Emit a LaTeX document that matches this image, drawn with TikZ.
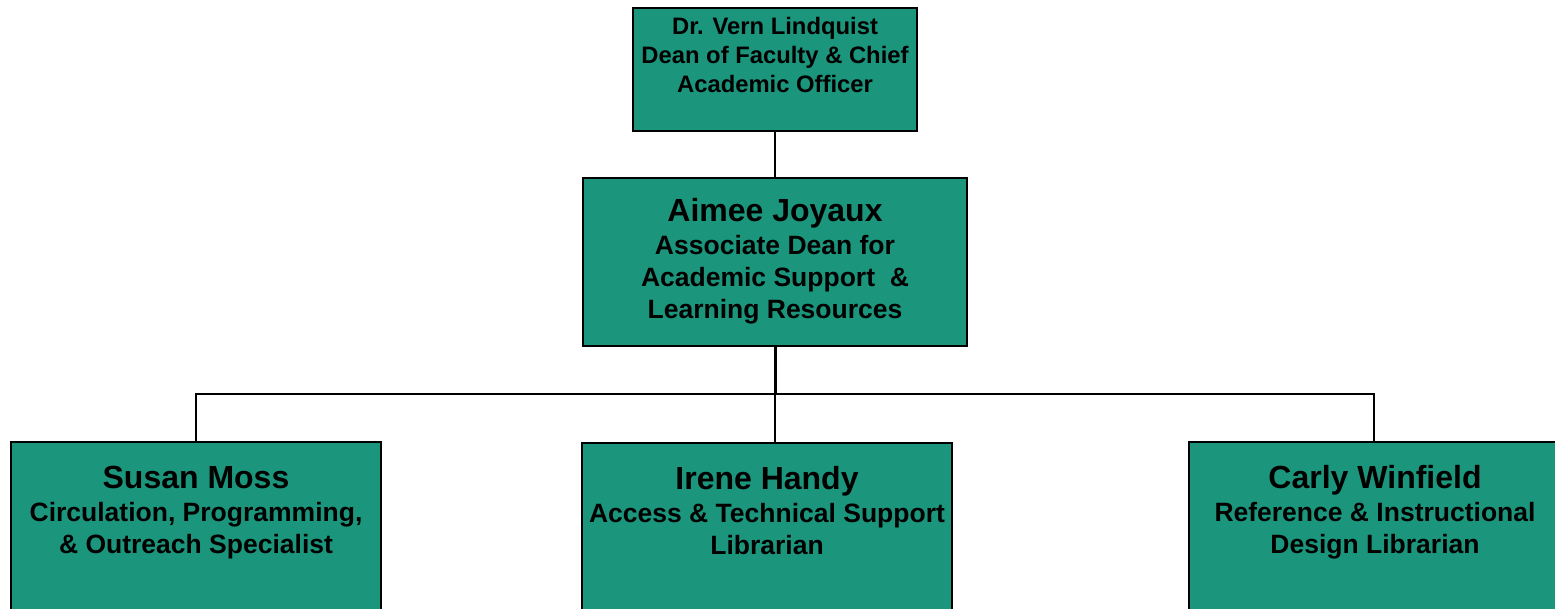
\documentclass[tikz,border=0pt]{standalone}
\usepackage{fontspec}
\setmainfont{Liberation Sans}
\definecolor{boxteal}{HTML}{1B967D}
\begin{document}
\begin{tikzpicture}[x=1pt,y=-1pt,
  orgbox/.style={draw=black,line width=2.2pt,fill=boxteal,rectangle,inner sep=0pt},
  personname/.style={anchor=base,inner sep=0pt,font=\fontsize{32}{38}\selectfont\bfseries},
  roletext/.style={anchor=base,inner sep=0pt,align=center,font=\fontsize{26.5}{32}\selectfont\bfseries},
  toprole/.style={anchor=base,inner sep=0pt,align=center,font=\fontsize{23.8}{29}\selectfont\bfseries},
  link/.style={line width=2pt,draw=black}]
\useasboundingbox (0,0) rectangle (1555,608);
\clip (0,0) rectangle (1555,608);
% boxes
\node[orgbox,minimum width=284pt,minimum height=123pt] (dean) at (775,69.5) {};
\node[orgbox,minimum width=384pt,minimum height=168pt] (assoc) at (775,262) {};
\node[orgbox,minimum width=370pt,minimum height=200pt] (susan) at (196,542) {};
\node[orgbox,minimum width=370pt,minimum height=200pt] (irene) at (767,543) {};
\node[orgbox,minimum width=370pt,minimum height=200pt] (carly) at (1374,542) {};
% texts (multi-line nodes anchored at the baseline of their last line)
\node[toprole] (deant) at (775,92.6) {Dr. Vern Lindquist\\Dean of Faculty \& Chief\\Academic Officer};
\node[personname] (assocn) at (775,221.5) {Aimee Joyaux};
\node[roletext] (assocr) at (775,318.7) {Associate Dean for\\Academic Support\ \ \&\\Learning Resources};
\node[personname] (susann) at (196,488.5) {Susan Moss};
\node[roletext] (susanr) at (196,553.7) {Circulation, Programming,\\\& Outreach Specialist};
\node[personname] (irenen) at (767,489.5) {Irene Handy};
\node[roletext] (irener) at (767,554.7) {Access \& Technical Support\\Librarian};
\node[personname] (carlyn) at (1375,488.5) {Carly Winfield};
\node[roletext] (carlyr) at (1375,553.7) {Reference \& Instructional\\Design Librarian};
% connectors
\coordinate (bus) at (775,394);
\draw[link] (dean.south) -- (assoc.north);
\draw[link,line width=3pt] (assoc.south) -- (bus);
\draw[link] (susan.north) |- (bus) -| (carly.north);
\draw[link] (bus) -- (bus |- irene.north);
\end{tikzpicture}
\end{document}
